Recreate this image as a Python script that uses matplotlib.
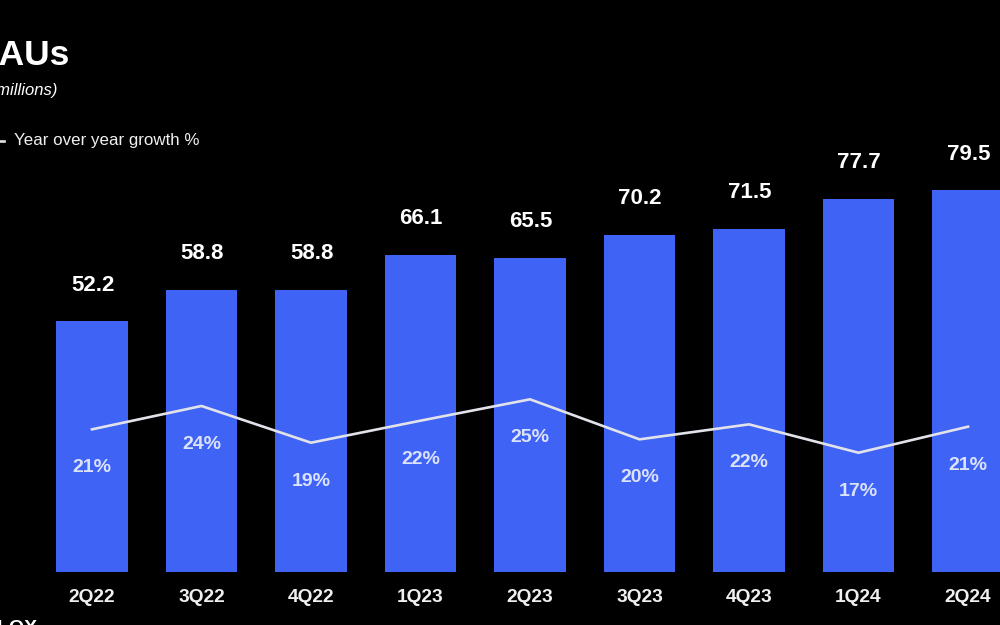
import matplotlib
matplotlib.use("Agg")
import matplotlib.pyplot as plt
from matplotlib.lines import Line2D

quarters = ["2Q22", "3Q22", "4Q22", "1Q23", "2Q23", "3Q23", "4Q23", "1Q24", "2Q24"]
daus = [52.2, 58.8, 58.8, 66.1, 65.5, 70.2, 71.5, 77.7, 79.5]
growth_labels = [21, 24, 19, 22, 25, 20, 22, 17, 21]
growth_line = [20.5, 24.0, 18.5, 21.8, 25.0, 19.0, 21.25, 17.0, 20.9]

BAR = "#3E63F5"
LINE = "#E2E2EA"
PCT = "#DCE2FB"
FONT = ["Liberation Sans", "DejaVu Sans"]

plt.rcParams["font.family"] = FONT

fig = plt.figure(figsize=(10, 6.25), dpi=100, facecolor="black")
W, H = 1000, 625

def fx(px):
    return px / W

def fy(py):
    return (H - py) / H

ax = fig.add_axes([0, fy(572), 1, 480 / H])
ax.set_facecolor("black")
x = list(range(len(quarters)))
ax.bar(x, daus, width=0.657, color=BAR, zorder=2)
ax.set_xlim(-0.840, 8.292)
ax.set_ylim(0, 100)
for s in ax.spines.values():
    s.set_visible(False)
ax.set_yticks([])
ax.set_xticks(x)
ax.set_xticklabels(quarters, fontsize=13.8, fontweight="bold", color="#F0F0F0")
ax.tick_params(axis="x", length=0, pad=12.5)

for xi, v in zip(x, daus):
    ax.annotate(f"{v:.1f}", (xi, v), xytext=(0.5, 26), textcoords="offset points",
                ha="center", va="center", fontsize=16, fontweight="bold", color="white")

ax2 = ax.twinx()
ax2.set_ylim(-0.87, 71.04)
ax2.set_yticks([])
for s in ax2.spines.values():
    s.set_visible(False)
ax2.plot(x, growth_line, color=LINE, lw=1.9, zorder=3, solid_joinstyle="miter")
for xi, v, lab in zip(x, growth_line, growth_labels):
    ax2.annotate(f"{lab}%", (xi, v), xytext=(0, -27.6), textcoords="offset points",
                 ha="center", va="center", fontsize=14, fontweight="bold", color=PCT)

# Title and annotations (slide is cropped at the left edge)
fig.text(fx(-26), fy(65), "DAUs", fontsize=25.5, fontweight="bold", color="white",
         ha="left", va="baseline")
fig.text(fx(57), fy(95), "(in millions)", fontsize=12, fontstyle="italic", color="white",
         ha="right", va="baseline")
fig.add_artist(Line2D([fx(-20), fx(4)], [fy(141), fy(141)], color=LINE, lw=1.9))
fig.text(fx(14), fy(141), "Year over year growth %", fontsize=12.2, color="#F0F0F0",
         ha="left", va="center")
fig.text(fx(38), fy(620), "ROBLOX", fontsize=14, fontweight="bold", color="white",
         ha="right", va="top")

fig.savefig("out.png", dpi=100, facecolor="black")
